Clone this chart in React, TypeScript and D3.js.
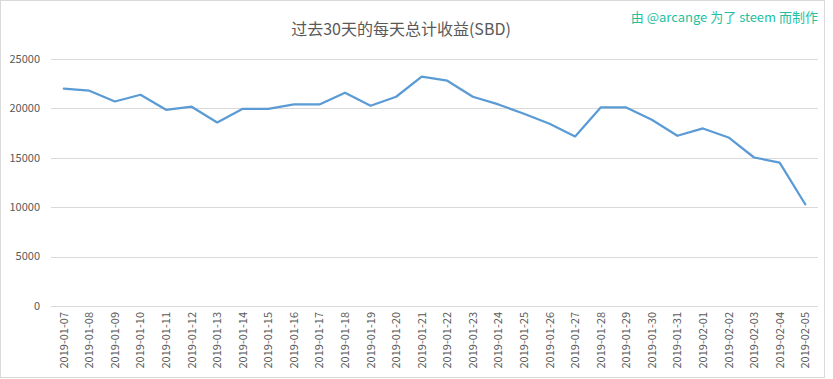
import React from "react";
import * as d3 from "d3";

const dates = [
  "2019-01-07","2019-01-08","2019-01-09","2019-01-10","2019-01-11","2019-01-12","2019-01-13","2019-01-14","2019-01-15","2019-01-16",
  "2019-01-17","2019-01-18","2019-01-19","2019-01-20","2019-01-21","2019-01-22","2019-01-23","2019-01-24","2019-01-25","2019-01-26",
  "2019-01-27","2019-01-28","2019-01-29","2019-01-30","2019-01-31","2019-02-01","2019-02-02","2019-02-03","2019-02-04","2019-02-05",
];
const earnings = [
  21990, 21790, 20700, 21380, 19860, 20170, 18580, 19960, 19960, 20400,
  20400, 21590, 20270, 21180, 23210, 22800, 21180, 20400, 19460, 18440,
  17160, 20100, 20100, 18850, 17230, 17970, 17060, 15030, 14520, 10300,
];
const yTicks = [0, 5000, 10000, 15000, 20000, 25000];
const title = "过去30天的每天总计收益(SBD)";
const credit = "由 @arcange 为了 steem 而制作";

const W = 833, H = 379;
const left = 51, right = 818, top = 59, bottom = 306;

export default function App() {
  const x = d3.scaleBand<string>().domain(dates).range([left, right]);
  const y = d3.scaleLinear().domain([0, 25000]).range([bottom, top]);
  const line = d3
    .line<number>()
    .x((_, i) => (x(dates[i]) as number) + x.bandwidth() / 2)
    .y((d) => y(d));
  const font = "'Noto Sans CJK SC', 'Noto Sans', sans-serif";
  return (
    <svg
      width={W}
      height={H}
      style={{ position: "absolute", left: 0, top: 0, background: "#fff" }}
      fontFamily={font}
    >
      <rect x={0.5} y={0.5} width={824} height={377} fill="#fff" stroke="#d9d9d9" />
      <text x={401} y={35} textAnchor="middle" fontSize={16} fill="#595959">
        {title}
      </text>
      <text x={818} y={22} textAnchor="end" fontSize={13} fill="#1fbfa0">
        {credit}
      </text>
      {yTicks.map((t) => (
        <g key={t}>
          <line x1={left} x2={right} y1={Math.round(y(t)) + 0.5} y2={Math.round(y(t)) + 0.5} stroke="#d9d9d9" />
          <text x={40} y={y(t)} dy="0.35em" textAnchor="end" fontSize={11} fill="#595959">
            {t}
          </text>
        </g>
      ))}
      {dates.map((d) => {
        const cx = (x(d) as number) + x.bandwidth() / 2;
        return (
          <text
            key={d}
            transform={`translate(${cx + 4},${312}) rotate(-90)`}
            textAnchor="end"
            fontSize={11}
            fill="#595959"
          >
            {d}
          </text>
        );
      })}
      <path d={line(earnings) || ""} fill="none" stroke="#5b9bd5" strokeWidth={2.25} strokeLinejoin="round" strokeLinecap="round" />
    </svg>
  );
}
